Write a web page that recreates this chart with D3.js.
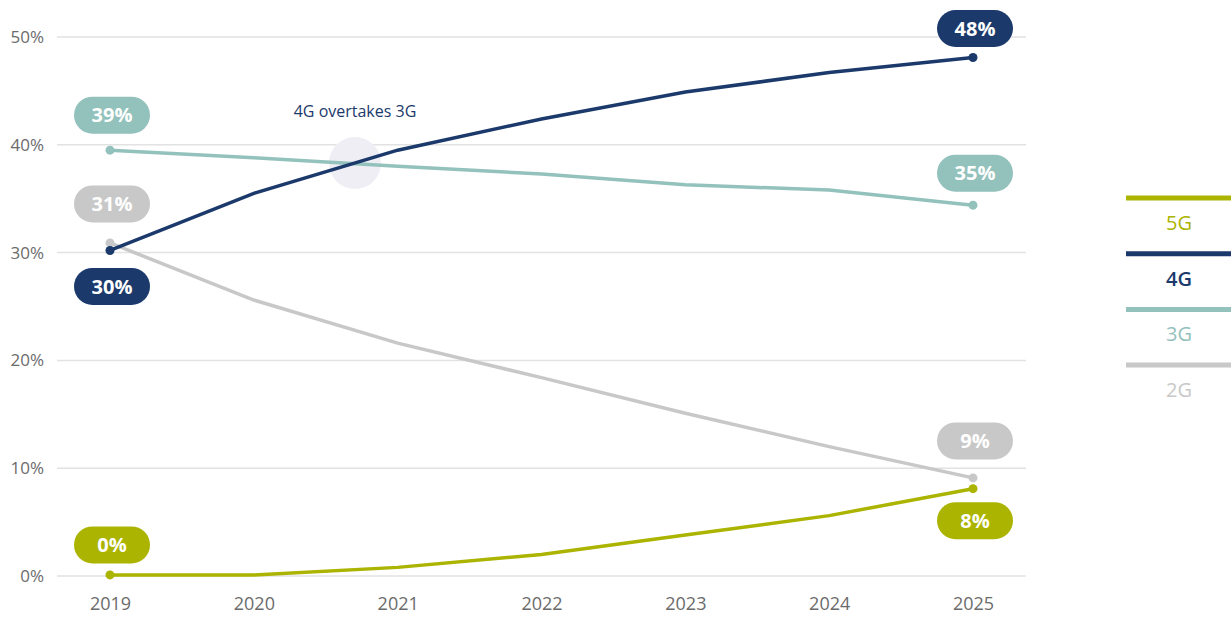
<!DOCTYPE html>
<html>
<head>
<meta charset="utf-8">
<script src="https://cdn.jsdelivr.net/npm/d3@7"></script>
<style>
  body { margin: 0; background: #fff; }
  svg { font-family: "Open Sans", sans-serif; }
</style>
</head>
<body>
<svg></svg>
<script>
// Chart data
var years = [2019, 2020, 2021, 2022, 2023, 2024, 2025]
var techs = ["5G", "4G", "3G", "2G"]
var share5G = [0.1, 0.1, 0.8, 2.0, 3.8, 5.6, 8.1]
var share4G = [30.2, 35.5, 39.5, 42.4, 44.9, 46.7, 48.1]
var share3G = [39.5, 38.8, 38.0, 37.3, 36.3, 35.8, 34.4]
var share2G = [30.9, 25.6, 21.6, 18.4, 15.1, 12.0, 9.1]
var yTicks = [0, 10, 20, 30, 40, 50]
var startLabels = ["0%", "30%", "39%", "31%"]
var endLabels = ["8%", "48%", "35%", "9%"]
var annotation = "4G overtakes 3G"

var width = 1231,
    height = 621

var colors = {"5G": "#abb400", "4G": "#1b3a6b", "3G": "#93c1bc", "2G": "#c8c8c8"}
// pill offset from the point (negative = above)
var startOffset = {"5G": -30, "4G": 36, "3G": -35, "2G": -39}
var endOffset = {"5G": 32, "4G": -29, "3G": -32, "2G": -37}

var svg = d3.select("svg")
    .attr("width", width)
    .attr("height", height)

var x = d3.scalePoint()
    .domain(years)
    .range([110, 973])

var y = d3.scaleLinear()
    .domain([0, 50])
    .range([576, 37])

// Gridlines
svg.append("g")
    .selectAll("line")
    .data(yTicks)
    .enter().append("line")
    .attr("x1", 57)
    .attr("x2", 1026)
    .attr("y1", function(d) { return y(d) })
    .attr("y2", function(d) { return y(d) })
    .style("stroke", "#e2e2e2")
    .style("stroke-width", "1.5px")

// Y axis labels
var yAxis = svg.append("g")
    .attr("transform", "translate(44,0)")
    .call(d3.axisLeft(y).tickValues(yTicks).tickSize(0).tickPadding(0)
        .tickFormat(function(d) { return d + "%" }))
yAxis.select(".domain").remove()
yAxis.selectAll("text")
    .style("font-size", "17px")
    .style("fill", "#6b6b6b")
    .style("font-family", "'Open Sans', sans-serif")

// X axis labels
var xAxis = svg.append("g")
    .attr("transform", "translate(0,594)")
    .call(d3.axisBottom(x).tickSize(0).tickPadding(0))
xAxis.select(".domain").remove()
xAxis.selectAll("text")
    .attr("dy", "0.9em")
    .style("font-size", "18px")
    .style("fill", "#6b6b6b")
    .style("font-family", "'Open Sans', sans-serif")

// Annotation
svg.append("circle")
    .attr("cx", 355)
    .attr("cy", 163)
    .attr("r", 26)
    .style("fill", "#eeeef4")

svg.append("text")
    .attr("x", 355)
    .attr("y", 117)
    .attr("text-anchor", "middle")
    .style("font-size", "16px")
    .style("fill", "#1b3a6b")
    .text(annotation)

var series = [
    {key: "2G", values: share2G, start: startLabels[3], end: endLabels[3]},
    {key: "3G", values: share3G, start: startLabels[2], end: endLabels[2]},
    {key: "5G", values: share5G, start: startLabels[0], end: endLabels[0]},
    {key: "4G", values: share4G, start: startLabels[1], end: endLabels[1]}
]

var line = d3.line()
    .x(function(d, i) { return x(years[i]) })
    .y(function(d) { return y(d) })

var groups = svg.selectAll(".series")
    .data(series)
    .enter().append("g")
    .attr("class", "series")

groups.append("path")
    .attr("d", function(d) { return line(d.values) })
    .style("fill", "none")
    .style("stroke", function(d) { return colors[d.key] })
    .style("stroke-width", "3.5px")

groups.selectAll("circle")
    .data(function(d) {
        return [
            {key: d.key, i: 0, v: d.values[0]},
            {key: d.key, i: years.length - 1, v: d.values[years.length - 1]}
        ]
    })
    .enter().append("circle")
    .attr("cx", function(d) { return x(years[d.i]) })
    .attr("cy", function(d) { return y(d.v) })
    .attr("r", 4.5)
    .style("fill", function(d) { return colors[d.key] })

// Value pills
var pills = []
series.forEach(function(s) {
    pills.push({key: s.key, year: years[0], v: s.values[0], text: s.start, off: startOffset[s.key]})
    pills.push({key: s.key, year: years[years.length - 1], v: s.values[years.length - 1], text: s.end, off: endOffset[s.key]})
})

var pill = svg.selectAll(".pill")
    .data(pills)
    .enter().append("g")
    .attr("class", "pill")
    .attr("transform", function(d) {
        return "translate(" + (x(d.year) + 2) + "," + (y(d.v) + d.off) + ")"
    })

pill.append("rect")
    .attr("x", -38)
    .attr("y", -18.5)
    .attr("width", 76)
    .attr("height", 37)
    .attr("rx", 18.5)
    .style("fill", function(d) { return colors[d.key] })

pill.append("text")
    .attr("text-anchor", "middle")
    .attr("dy", "0.36em")
    .style("font-size", "20px")
    .style("font-weight", "bold")
    .style("fill", "#fff")
    .text(function(d) { return d.text })

// Legend
var legend = svg.selectAll(".legend")
    .data(techs)
    .enter().append("g")
    .attr("class", "legend")
    .attr("transform", function(d, i) { return "translate(1126," + (198 + i * 55.7) + ")" })

legend.append("line")
    .attr("x1", 0)
    .attr("x2", 105)
    .style("stroke", function(d) { return colors[d] })
    .style("stroke-width", "5px")

legend.append("text")
    .attr("x", 53)
    .attr("y", 32)
    .attr("text-anchor", "middle")
    .style("font-size", "20px")
    .style("font-weight", function(d) { return d === "4G" ? 600 : 400 })
    .style("fill", function(d) { return colors[d] })
    .text(function(d) { return d })
</script>
</body>
</html>
